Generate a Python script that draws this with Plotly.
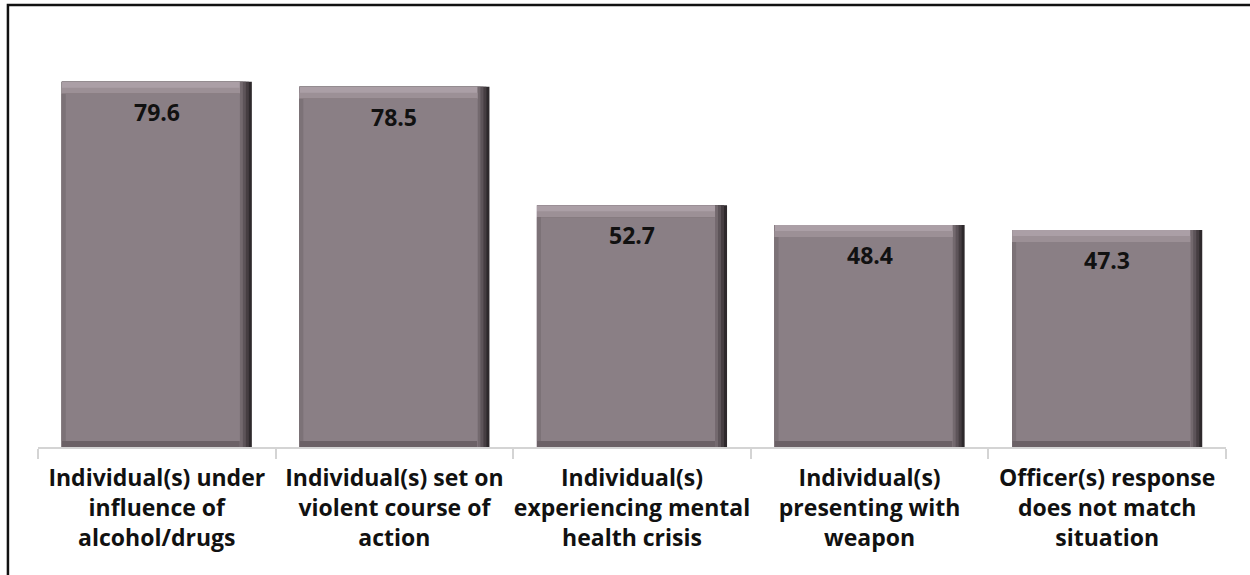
import plotly.graph_objects as go

# Survey results: share of respondents citing each factor (%)
categories = [
    "Individual(s) under<br>influence of<br>alcohol/drugs",
    "Individual(s) set on<br>violent course of<br>action",
    "Individual(s)<br>experiencing mental<br>health crisis",
    "Individual(s)<br>presenting with<br>weapon",
    "Officer(s) response<br>does not match<br>situation",
]
values = [79.6, 78.5, 52.7, 48.4, 47.3]

FONT = "Open Sans"
Y_MAX = 90
BAR_W = 0.8                 # bar width in category units
PX_X = 1 / 237.6            # one pixel in category units
PX_Y = Y_MAX / 413          # one pixel in data units

fig = go.Figure()
n = len(values)


def layer(top_cut, base_px, left_px, right_px, color):
    """One bevel layer: a bar trimmed by the given pixel amounts."""
    base = base_px * PX_Y
    fig.add_trace(go.Bar(
        x=categories,
        y=[v - top_cut * PX_Y - base for v in values],
        base=[base] * n,
        offset=-BAR_W / 2 + left_px * PX_X,
        width=BAR_W - (left_px + right_px) * PX_X,
        marker=dict(color=color, line=dict(width=0)),
        hoverinfo="skip", showlegend=False,
    ))


# right-hand bevel, darkening towards the edge
layer(0, 0, 0, 0, "#2e292c")
layer(0, 0, 0, 3, "#463e42")
layer(0, 0, 0, 6, "#5d5459")
layer(0, 0, 0, 9, "#73696e")
# top bevel highlight
layer(0, 0, 0, 12, "#ab9fa6")
layer(6, 0, 0, 12, "#9c9096")
# bottom bevel
layer(12, 0, 0, 12, "#6b6166")
# left bevel
layer(12, 6, 0, 12, "#7c7277")
# main face
layer(12, 6, 4, 12, "#8a7f85")

# value labels near the top of each bar
for c, v in zip(categories, values):
    fig.add_annotation(
        x=c, y=v, yshift=-30, text=f"<b>{v:.1f}</b>", showarrow=False,
        font=dict(family=FONT, size=23, color="#111111"), yanchor="middle",
    )

# outer frame
fig.add_shape(type="rect", xref="paper", yref="paper",
              x0=-0.0253, x1=1.03, y0=-0.35, y1=1.0702,
              line=dict(color="#111111", width=2.5), fillcolor="rgba(0,0,0,0)")

fig.update_layout(
    width=1250, height=575,
    margin=dict(l=38, r=24, t=34, b=128),
    paper_bgcolor="white", plot_bgcolor="white",
    barmode="overlay",
    font=dict(family=FONT, color="#111111"),
    xaxis=dict(
        type="category", tickson="boundaries", ticks="outside", ticklen=10,
        tickcolor="#d4d4d4", tickwidth=1.5,
        showline=True, linecolor="#d4d4d4", linewidth=1.5,
        showgrid=False, zeroline=False,
        tickfont=dict(family=FONT, size=23, color="#111111"),
        tickprefix="<b>", ticksuffix="</b>",
        tickangle=0, automargin=False,
        ticklabelstandoff=10,
    ),
    yaxis=dict(range=[0, Y_MAX], visible=False, showgrid=False, zeroline=False,
               automargin=False),
)

fig.write_html("out.html")
